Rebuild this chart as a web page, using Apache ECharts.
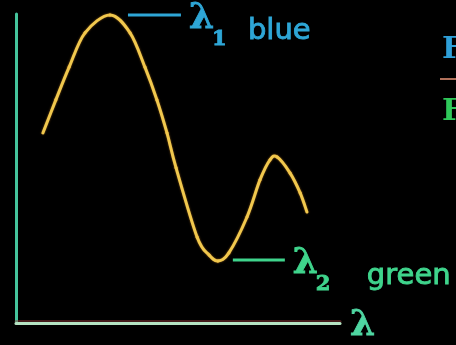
<!DOCTYPE html>
<html>
<head>
<meta charset="utf-8">
<style>
  html, body { margin: 0; padding: 0; background: #000; }
  #chart { width: 456px; height: 345px; }
</style>
<script src="https://cdn.jsdelivr.net/npm/echarts@6/dist/echarts.min.js"></script>
</head>
<body>
<div id="chart"></div>
<script>
// Absorption curve: wavelength (arbitrary units) vs. response
const wavelength = [8.3, 12.3, 16.4, 21.3, 29.0, 35.2, 39.8, 43.5, 46.6, 49.4, 55.9, 59.6, 62.3, 65.7, 71.3, 75.3, 78.4, 80.6, 84.6, 87.7, 89.8];
const response   = [61.5, 72.2, 82.8, 93.9, 99.7, 93.9, 82.8, 72.2, 61.5, 50.2, 27.8, 22.0, 20.1, 22.7, 34.3, 46.3, 52.8, 53.7, 48.5, 42.1, 35.9];

// Annotated wavelengths: main peak and the trough
const peakLabel   = { name: 'blue',  sub: '1', color: '#2ea6d6' };
const troughLabel = { name: 'green', sub: '2', color: '#3fd48c' };
const axisName = 'λ';

const chart = echarts.init(document.getElementById('chart'), null, { renderer: 'canvas' });

const points = wavelength.map((x, i) => [x, response[i]]);

// The curve is a Catmull-Rom spline through the mapped data points,
// emitted as cubic Bezier segments.
function renderCurve(params, api) {
  if (params.dataIndex !== 0) return null;
  const pts = points.map(p => api.coord(p));
  const n = pts.length;
  const style = { stroke: '#f0c84e', lineWidth: 3, fill: null, lineCap: 'round',
                  shadowColor: 'rgba(230,150,40,0.6)', shadowBlur: 2 };
  const children = [];
  for (let i = 0; i < n - 1; i++) {
    const p0 = pts[Math.max(i - 1, 0)], p1 = pts[i], p2 = pts[i + 1], p3 = pts[Math.min(i + 2, n - 1)];
    children.push({
      type: 'bezierCurve',
      shape: {
        x1: p1[0], y1: p1[1], x2: p2[0], y2: p2[1],
        cpx1: p1[0] + (p2[0] - p0[0]) / 6, cpy1: p1[1] + (p2[1] - p0[1]) / 6,
        cpx2: p2[0] - (p3[0] - p1[0]) / 6, cpy2: p2[1] - (p3[1] - p1[1]) / 6
      },
      style: style
    });
  }
  return { type: 'group', children: children };
}

chart.setOption({
  backgroundColor: '#000',
  animation: false,
  grid: { left: 16, top: 14, right: 116, bottom: 22 },
  xAxis: {
    type: 'value', min: 0, max: 100,
    axisLine: { show: true, onZero: false, lineStyle: { color: '#b4e3c2', width: 3, shadowColor: 'rgba(150,60,60,0.45)', shadowOffsetY: -2, shadowBlur: 0 } },
    axisTick: { show: false }, axisLabel: { show: false }, splitLine: { show: false }
  },
  yAxis: {
    type: 'value', min: 0, max: 100,
    axisLine: { show: true, onZero: false, lineStyle: { color: '#45c49c', width: 3 } },
    axisTick: { show: false }, axisLabel: { show: false }, splitLine: { show: false }
  },
  series: [{
    type: 'custom',
    data: points,
    renderItem: renderCurve,
    clip: false
  }]
});

// Place annotations relative to the extreme points of the data
let iPeak = 0;
response.forEach((v, i) => { if (v > response[iPeak]) iPeak = i; });
let iTrough = iPeak;
for (let i = iPeak; i < response.length; i++) { if (response[i] < response[iTrough]) iTrough = i; }

const pPeak = chart.convertToPixel({ gridIndex: 0 }, points[iPeak]);
const pTrough = chart.convertToPixel({ gridIndex: 0 }, points[iTrough]);
const xEnd = chart.convertToPixel({ gridIndex: 0 }, [100, 0]);

function labelGroup(p, lbl, dx, len, lambdaDx, nameDx, dy) {
  const stroke = { stroke: lbl.color, lineWidth: 0.9 };
  return [
    { type: 'line', shape: { x1: p[0] + dx, y1: p[1] + dy, x2: p[0] + dx + len, y2: p[1] + dy },
      style: { stroke: lbl.color, lineWidth: 3 } },
    { type: 'text', x: p[0] + lambdaDx, y: p[1] + dy + 22,
      style: Object.assign({ text: 'λ', font: 'bold 36px "DejaVu Serif"', fill: lbl.color, textVerticalAlign: 'bottom' }, stroke) },
    { type: 'text', x: p[0] + lambdaDx + 23, y: p[1] + dy + 35,
      style: Object.assign({ text: lbl.sub, font: 'bold 21px "DejaVu Serif"', fill: lbl.color, textVerticalAlign: 'bottom' }, stroke) },
    { type: 'text', x: p[0] + nameDx, y: p[1] + dy + 31,
      style: Object.assign({ text: lbl.name, font: '29px "DejaVu Sans"', fill: lbl.color, textVerticalAlign: 'bottom' }, stroke) }
  ];
}

chart.setOption({
  graphic: [
    ...labelGroup(pPeak, peakLabel, 18, 53, 79, 138, 0),
    ...labelGroup(pTrough, troughLabel, 15, 52, 75, 149, -1),
    { type: 'text', x: xEnd[0] + 10, y: xEnd[1] + 21,
      style: { text: axisName, font: 'bold 36px "DejaVu Serif"', fill: '#4fd6a2', stroke: '#4fd6a2', lineWidth: 0.8, textVerticalAlign: 'bottom' } },
    // legend swatches at the right edge
    { type: 'text', x: 442, y: 65,
      style: { text: 'F', font: 'bold 30px "DejaVu Serif"', fill: '#2e9fd8', textVerticalAlign: 'bottom' } },
    { type: 'line', shape: { x1: 440, y1: 79, x2: 456, y2: 79 }, style: { stroke: '#b0705a', lineWidth: 2 } },
    { type: 'text', x: 442, y: 127,
      style: { text: 'F', font: 'bold 30px "DejaVu Serif"', fill: '#2fc85a', textVerticalAlign: 'bottom' } }
  ]
});
</script>
</body>
</html>
